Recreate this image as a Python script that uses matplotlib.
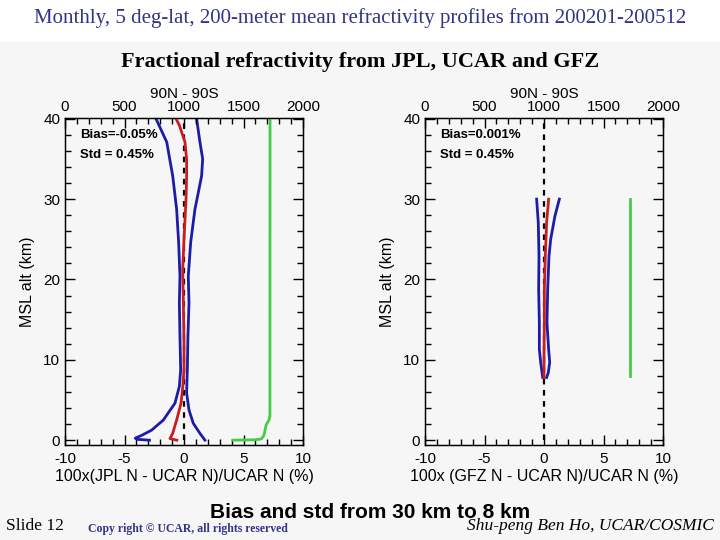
import matplotlib
matplotlib.use("Agg")
import matplotlib.pyplot as plt
from matplotlib.patches import Rectangle
from matplotlib.ticker import MultipleLocator

plt.rcParams["axes.unicode_minus"] = False

# ---------------- data ----------------
# Panel 1: JPL vs UCAR (percent), altitude km
p1_alt_lo = [40, 37.1, 32.9, 28.75, 24.6, 20.4, 17.1, 12.9, 8.75, 6.7, 4.6, 2.5, 1.25, 0.6, 0.25, 0.1, 0.0]
p1_lo     = [-2.35, -1.45, -0.95, -0.62, -0.45, -0.34, -0.39, -0.34, -0.28, -0.39, -0.76, -1.74, -2.72, -3.56, -4.1, -3.9, -2.9]
p1_alt_hi = [40, 37.1, 35, 32.9, 30.8, 28.75, 24.6, 20.4, 17.1, 12.9, 8.75, 5.9, 3.75, 2.1, 0.85, 0.0]
p1_hi     = [1.06, 1.34, 1.57, 1.48, 1.2, 0.92, 0.56, 0.36, 0.42, 0.33, 0.28, 0.22, 0.42, 0.78, 1.34, 1.76]
p1_alt_mean = [40, 39.2, 37.1, 35, 32.9, 30, 25, 21.25, 17, 12, 8.75, 6.7, 4.6, 2.5, 0.85, 0.2, 0.0]
p1_mean     = [-0.67, -0.39, 0.08, 0.22, 0.22, 0.17, 0.0, -0.11, -0.05, 0.0, 0.0, -0.1, -0.25, -0.62, -0.95, -1.18, -0.6]
p1_alt_cnt = [40, 3.0, 2.5, 1.9, 0.6, 0.15, 0.05, 0.0]
p1_cnt     = [1723, 1722, 1714, 1690, 1672, 1650, 1600, 1410]

# Panel 2: GFZ vs UCAR
p2_alt_lo = [30, 27.1, 22.9, 18.8, 14.6, 11.3, 9.7, 7.8]
p2_lo     = [-0.62, -0.48, -0.42, -0.45, -0.39, -0.39, -0.28, -0.11]
p2_alt_hi = [30, 27.9, 25, 22.9, 18.8, 14.6, 11.3, 9.7, 8.4, 7.8]
p2_hi     = [1.29, 0.92, 0.56, 0.42, 0.31, 0.25, 0.39, 0.48, 0.36, 0.22]
p2_alt_mean = [30, 27.1, 22.9, 18.8, 14.6, 10.5, 7.8]
p2_mean     = [0.39, 0.22, 0.11, 0.03, 0.03, 0.0, 0.0]
p2_alt_cnt = [30, 8]
p2_cnt     = [1723, 1723]

panel_bias = ["Bias=-0.05%", "Bias=0.001%"]
panel_std = ["Std = 0.45%", "Std = 0.45%"]
panel_xlabel = ["100x(JPL N - UCAR N)/UCAR N (%)", "100x (GFZ N - UCAR N)/UCAR N (%)"]

# ---------------- figure ----------------
W, H = 720, 540
fig = plt.figure(figsize=(7.2, 5.4), dpi=100)
bg = "#f6f6f6"
fig.patch.set_facecolor(bg)
fig.add_artist(Rectangle((0, 1 - 42 / H), 1, 42 / H, transform=fig.transFigure,
                         facecolor="white", edgecolor="none", zorder=0))

sans = "Liberation Sans"
serif = "Liberation Serif"

BLUE = "#1c1ca8"
RED = "#c81e1e"
GREEN = "#44cc44"

def make_panel(left_px, data, bias, std, xlabel):
    (alo, lo, ahi, hi, am, mn, ac, cnt) = data
    ax = fig.add_axes([left_px / W, 1 - 445 / H, 238 / W, 327 / H])
    ax.set_facecolor(bg)
    ax.set_xlim(-10, 10)
    ax.set_ylim(-0.6, 40.1)
    ax.plot([0, 0], [0, 40], color="black", lw=1.6, ls=(0, (2.5, 2.5)), zorder=3)
    ax.plot(lo, alo, color=BLUE, lw=2)
    ax.plot(hi, ahi, color=BLUE, lw=2)
    ax.plot(mn, am, color=RED, lw=2, zorder=4)
    ax.xaxis.set_major_locator(MultipleLocator(5))
    ax.xaxis.set_minor_locator(MultipleLocator(1))
    ax.yaxis.set_major_locator(MultipleLocator(10))
    ax.yaxis.set_minor_locator(MultipleLocator(2))
    ax.tick_params(which="both", direction="in", top=False, right=True,
                   labelsize=11, width=1)
    ax.tick_params(which="major", length=7)
    ax.tick_params(which="minor", length=4)
    ax.tick_params(axis="x", pad=5)
    for lab in ax.get_xticklabels() + ax.get_yticklabels():
        lab.set_fontfamily(sans)
    ax.set_xlabel(xlabel, fontsize=11.5, fontfamily=sans, labelpad=2)
    ax.set_ylabel("MSL alt (km)", fontsize=11.5, fontfamily=sans, labelpad=6)
    for s in ax.spines.values():
        s.set_linewidth(1)
    ax2 = ax.twiny()
    ax2.set_xlim(0, 2000)
    ax2.plot(cnt, ac, color=GREEN, lw=2)
    ax2.xaxis.set_major_locator(MultipleLocator(500))
    ax2.xaxis.set_minor_locator(MultipleLocator(100))
    ax2.tick_params(which="both", direction="in", labelsize=11, width=1, pad=3)
    ax2.tick_params(which="major", length=7)
    ax2.tick_params(which="minor", length=4)
    for lab in ax2.get_xticklabels():
        lab.set_fontfamily(sans)
    ax2.set_xlabel("90N - 90S", fontsize=11, fontfamily=sans, labelpad=1.5)
    ax.text(0.065, 0.965, bias, transform=ax.transAxes, fontsize=9.5,
            fontweight="bold", fontfamily=sans, va="top")
    ax.text(0.065, 0.905, std, transform=ax.transAxes, fontsize=9.5,
            fontweight="bold", fontfamily=sans, va="top")
    return ax

make_panel(65, (p1_alt_lo, p1_lo, p1_alt_hi, p1_hi, p1_alt_mean, p1_mean, p1_alt_cnt, p1_cnt),
           panel_bias[0], panel_std[0], panel_xlabel[0])
make_panel(425, (p2_alt_lo, p2_lo, p2_alt_hi, p2_hi, p2_alt_mean, p2_mean, p2_alt_cnt, p2_cnt),
           panel_bias[1], panel_std[1], panel_xlabel[1])

fig.text(0.5, 1 - 18 / H,
         "Monthly, 5 deg-lat, 200-meter mean refractivity profiles from 200201-200512",
         ha="center", va="center", fontsize=15, fontfamily=serif, color="#333388")
fig.text(0.5, 1 - 62 / H, "Fractional refractivity from JPL, UCAR and GFZ",
         ha="center", va="center", fontsize=16, fontweight="bold", fontfamily=serif)
fig.text(370 / W, 1 - 512 / H, "Bias and std from 30 km to 8 km",
         ha="center", va="center", fontsize=15, fontweight="bold", fontfamily=sans)
fig.text(6 / W, 1 - 526 / H, "Slide 12", ha="left", va="center",
         fontsize=12.5, fontfamily=serif)
fig.text(88 / W, 1 - 529 / H, "Copy right \u00a9 UCAR, all rights reserved", ha="left",
         va="center", fontsize=8.5, fontfamily=serif, fontweight="bold", color="#333388")
fig.text(714 / W, 1 - 526 / H, "Shu-peng Ben Ho, UCAR/COSMIC", ha="right",
         va="center", fontsize=12.5, fontfamily=serif, style="italic")

fig.savefig("out.png", dpi=100, facecolor=fig.get_facecolor())
